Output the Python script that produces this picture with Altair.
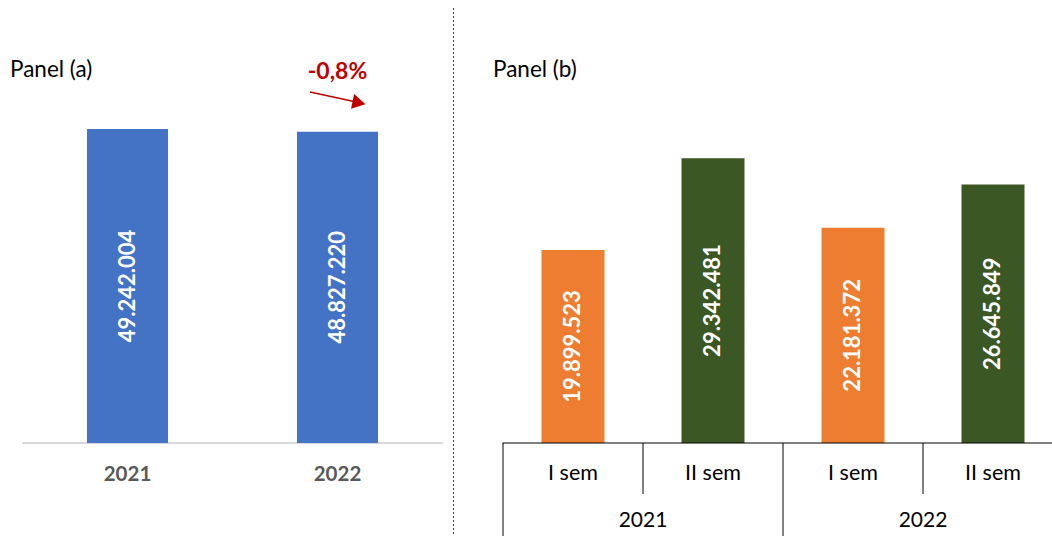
import altair as alt
import pandas as pd

# ---------------- data ----------------
years_a = ["2021", "2022"]
totals_a = [49242004, 48827220]

cats_b = ["2021 I sem", "2021 II sem", "2022 I sem", "2022 II sem"]
sem_b = ["I sem", "II sem", "I sem", "II sem"]
year_b = ["2021", "2021", "2022", "2022"]
values_b = [19899523, 29342481, 22181372, 26645849]
colors_b = ["#ED7D31", "#3B5724", "#ED7D31", "#3B5724"]


def fmt(v):
    return f"{v:,}".replace(",", ".")


dfa = pd.DataFrame({"year": years_a, "value": totals_a,
                    "label": [fmt(v) for v in totals_a]})
dfb = pd.DataFrame({"cat": cats_b, "sem": sem_b, "yr": year_b,
                    "value": values_b, "label": [fmt(v) for v in values_b],
                    "color": colors_b})
dfb["first"] = dfb["sem"] == "I sem"

change = (totals_a[1] / totals_a[0] - 1) * 100
change_label = f"{change:.1f}%".replace(".", ",")

FONT = "Lato"

# ---------------- panel (a) ----------------
xa_scale = alt.Scale(range=[22.5, 442.5], paddingInner=0.614, paddingOuter=0.307)
ya_scale = alt.Scale(domain=[0, 60e6], range=[443, 443 - 60 * 6.377])
xa = alt.X("year:N", axis=None, scale=xa_scale)

base_a = alt.Chart(dfa)
bars_a = base_a.mark_bar(color="#4472C4").encode(
    x=xa, y=alt.Y("value:Q", axis=None, scale=ya_scale))
labels_a = base_a.transform_calculate(mid="datum.value / 2").mark_text(
    angle=270, color="white", fontWeight="bold", fontSize=22, font=FONT,
    align="center", baseline="middle").encode(
    x=xa, y=alt.Y("mid:Q", axis=None, scale=ya_scale), text="label:N")
xlabels_a = base_a.mark_text(
    y=475, color="#595959", fontWeight="bold", fontSize=20.5, font=FONT,
    align="center", baseline="middle").encode(x=xa, text="year:N")
baseline_a = alt.Chart(pd.DataFrame({"k": [0]})).mark_rule(
    color="#D9D9D9", strokeWidth=2).encode(
    x=alt.value(22), x2=alt.value(443), y=alt.value(443))
title_a = alt.Chart(pd.DataFrame({"t": ["Panel (a)"]})).mark_text(
    x=10, y=70, align="left", baseline="middle", fontSize=22.5, font=FONT,
    color="black").encode(text="t:N")
change_df = pd.DataFrame({"year": [years_a[1]], "t": [change_label]})
change_a = alt.Chart(change_df).mark_text(
    y=72, align="center", baseline="middle", fontSize=23, fontWeight="bold",
    font=FONT, color="#C00000").encode(x=xa, text="t:N")
arrow_line = alt.Chart(pd.DataFrame({"k": [0]})).mark_rule(
    color="#C00000", strokeWidth=1.5).encode(
    x=alt.value(310), y=alt.value(92), x2=alt.value(354), y2=alt.value(101.5))
arrow_head = alt.Chart(pd.DataFrame({"k": [0]})).mark_point(
    shape="triangle-right", filled=True, color="#C00000", opacity=1,
    size=230, angle=12).encode(x=alt.value(359), y=alt.value(102.8))

panel_a = alt.layer(baseline_a, bars_a, labels_a, xlabels_a, title_a,
                    change_a, arrow_line, arrow_head)

# ---------------- panel (b) ----------------
xb_scale = alt.Scale(range=[503, 1063], paddingInner=0, paddingOuter=0)
yb_scale = alt.Scale(domain=[0, 30e6], range=[443, 443 - 30 * 9.705])
xb = alt.X("cat:N", axis=None, scale=xb_scale, sort=cats_b)
xb_start = alt.X("cat:N", axis=None, scale=xb_scale, sort=cats_b, bandPosition=0)

base_b = alt.Chart(dfb)
bars_b = base_b.mark_bar(width=alt.RelativeBandSize(0.45)).encode(
    x=xb, y=alt.Y("value:Q", axis=None, scale=yb_scale),
    color=alt.Color("color:N", scale=None))
labels_b = base_b.transform_calculate(mid="datum.value / 2").mark_text(
    angle=270, color="white", fontWeight="bold", fontSize=22, font=FONT,
    align="center", baseline="middle").encode(
    x=xb, y=alt.Y("mid:Q", axis=None, scale=yb_scale), text="label:N")
sem_labels = base_b.mark_text(
    y=474, color="black", fontSize=21.5, font=FONT,
    align="center", baseline="middle").encode(x=xb, text="sem:N")
year_labels = base_b.transform_filter("!datum.first").mark_text(
    y=521, color="black", fontSize=21, font=FONT,
    align="center", baseline="middle").encode(x=xb_start, text="yr:N")
long_div = base_b.transform_filter("datum.first").mark_rule(
    color="black", strokeWidth=1).encode(
    x=xb_start, y=alt.value(443), y2=alt.value(536))
short_div = base_b.transform_filter("!datum.first").mark_rule(
    color="black", strokeWidth=1).encode(
    x=xb_start, y=alt.value(443), y2=alt.value(494))
baseline_b = alt.Chart(pd.DataFrame({"k": [0]})).mark_rule(
    color="black", strokeWidth=1).encode(
    x=alt.value(502.5), x2=alt.value(1052), y=alt.value(443))
title_b = alt.Chart(pd.DataFrame({"t": ["Panel (b)"]})).mark_text(
    x=493, y=70, align="left", baseline="middle", fontSize=22.5, font=FONT,
    color="black").encode(text="t:N")
separator = alt.Chart(pd.DataFrame({"k": [0]})).mark_rule(
    color="#404040", strokeWidth=1, strokeDash=[2, 2]).encode(
    x=alt.value(453.5), y=alt.value(8), y2=alt.value(536))

panel_b = alt.layer(bars_b, labels_b, baseline_b, long_div, short_div,
                    sem_labels, year_labels, title_b, separator)

chart = alt.layer(panel_a, panel_b).resolve_scale(
    x="independent", y="independent").properties(
    width=1052, height=536, padding=0,
    autosize=alt.AutoSizeParams(type="none")).configure_view(stroke=None)

chart.save("out.html", embed_options={"renderer": "svg", "actions": False})
